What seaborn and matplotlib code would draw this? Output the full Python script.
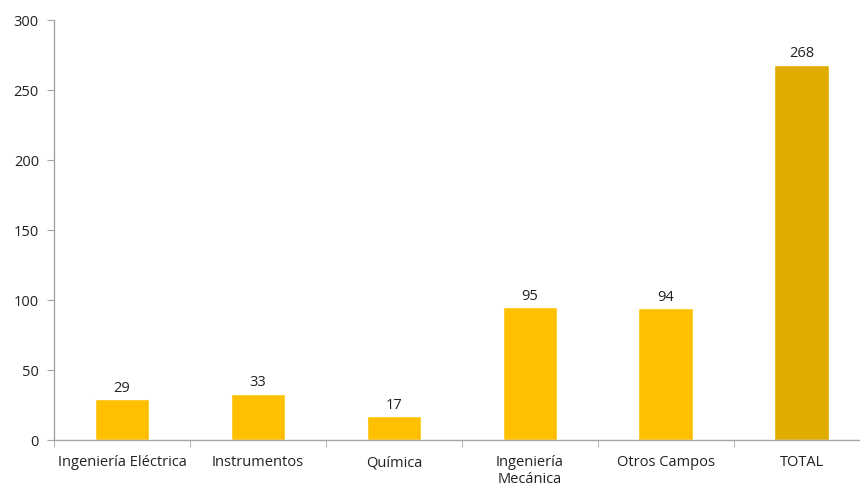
import numpy as np
import pandas as pd
import matplotlib.pyplot as plt
import seaborn as sns
from matplotlib.ticker import FixedLocator

# ==========================================
# DATA
# ==========================================
categories = ["Ingeniería Eléctrica", "Instrumentos", "Química",
              "Ingeniería\nMecánica", "Otros Campos", "TOTAL"]
values = [29, 33, 17, 95, 94, 268]
bar_colors = ["#FFC000", "#FFC000", "#FFC000", "#FFC000", "#FFC000", "#E0AC00"]
y_ticks = [0, 50, 100, 150, 200, 250, 300]

df = pd.DataFrame({"categoria": categories, "valor": values})

# ==========================================
# PLOT
# ==========================================
sns.set_style("white")
plt.rcParams["font.family"] = ["Open Sans", "DejaVu Sans"]

fig = plt.figure(figsize=(8.6, 4.9), dpi=100)
ax = fig.add_axes([0.063, 0.102, 0.948, 0.857])

sns.barplot(data=df, x="categoria", y="valor", hue="categoria",
            palette=bar_colors, legend=False, width=0.4, saturation=1, ax=ax)

for i, v in enumerate(values):
    ax.text(i, v + 2.5, str(v), ha="center", va="bottom",
            fontsize=10.5, color="#222222")

ax.set_ylim(0, 300)
ax.set_xlim(-0.5, len(categories) - 0.5)
ax.set_yticks(y_ticks)
ax.set_xlabel("")
ax.set_ylabel("")

for side in ["top", "right"]:
    ax.spines[side].set_visible(False)
for side in ["left", "bottom"]:
    ax.spines[side].set_color("#A6A6A6")
    ax.spines[side].set_linewidth(1)

# category boundary ticks on x axis
ax.xaxis.set_minor_locator(FixedLocator(np.arange(-0.5, len(categories), 1.0)))
ax.tick_params(axis="x", which="major", length=0, labelsize=10.5,
               colors="#222222", pad=11)
ax.tick_params(axis="x", which="minor", length=5, color="#A6A6A6",
               direction="out", bottom=True)
ax.tick_params(axis="y", length=5, color="#A6A6A6", labelsize=10.5,
               labelcolor="#222222", left=True, direction="out", pad=6)

plt.savefig("out.png", dpi=100)
